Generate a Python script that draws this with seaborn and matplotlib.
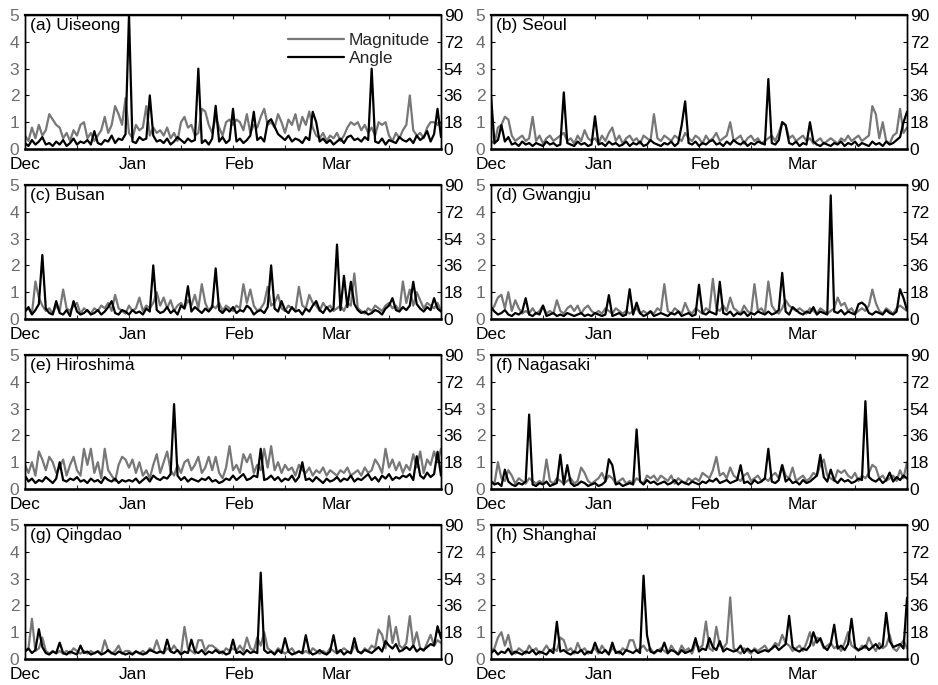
import numpy as np
import pandas as pd
import matplotlib
matplotlib.use("Agg")
import matplotlib.pyplot as plt
import seaborn as sns

# ---------------- data (daily, Dec 1 .. Mar 31) ----------------
month_labels = ["Dec", "Jan", "Feb", "Mar"]
month_starts = [0, 31, 62, 90]
left_ticks = [0, 1, 2, 3, 4, 5]
right_ticks = [0, 18, 36, 54, 72, 90]
panel_titles = ["(a) Uiseong", "(b) Seoul", "(c) Busan", "(d) Gwangju",
                "(e) Hiroshima", "(f) Nagasaki", "(g) Qingdao", "(h) Shanghai"]

uiseong_mag = [0.5,0.3,0.8,0.4,0.9,0.5,0.7,1.3,1.1,0.9,
               0.8,0.4,0.6,0.3,0.7,0.5,0.9,1.0,0.4,0.6,
               0.3,0.5,0.7,1.2,0.6,0.9,1.6,1.3,0.9,1.9,
               0.6,0.4,0.9,0.7,0.8,1.6,0.5,0.8,0.6,0.7,
               0.5,0.8,0.4,0.6,0.3,1.0,1.2,0.8,0.9,0.5,
               0.6,1.5,1.4,0.9,0.6,1.2,0.8,0.5,1.0,1.1,
               0.9,1.1,1.0,0.7,1.3,0.6,0.9,0.8,1.2,1.5,
               0.9,1.0,0.8,1.3,1.0,0.6,1.1,0.9,1.3,0.7,
               1.2,0.9,1.4,0.8,0.5,0.4,0.6,0.3,0.5,0.4,
               0.6,0.3,0.5,0.8,1.0,0.9,1.0,0.7,0.9,0.6,
               0.8,0.5,1.0,0.9,1.0,0.5,0.3,0.6,0.4,0.7,
               0.9,2.0,0.7,0.5,0.6,0.4,0.8,1.0,1.0,0.9,
               1.0]
uiseong_ang = [4,2,6,3,5,8,3,4,2,5,
               3,6,2,4,7,3,5,4,6,3,
               12,4,3,6,5,9,4,7,6,10,
               90,5,4,8,6,7,36,9,5,6,
               4,7,3,5,8,6,4,7,5,6,
               54,4,6,3,7,29,5,8,4,6,
               27,5,7,4,6,9,25,6,8,5,
               18,20,15,10,8,6,9,5,7,6,
               4,8,6,25,18,5,7,4,6,3,
               5,7,4,8,9,6,7,5,8,6,
               54,5,4,7,3,6,5,4,8,6,
               5,7,4,9,6,8,12,5,10,27,
               8]

seoul_mag = [0.3,0.2,0.8,0.9,1.2,1.1,0.5,0.3,0.4,0.5,
             0.3,0.4,1.2,0.3,0.5,0.2,0.4,0.5,0.3,0.4,
             0.5,0.6,0.3,0.4,0.2,0.5,0.3,0.7,0.4,0.3,
             0.4,0.2,0.5,0.3,0.6,0.8,0.3,0.5,0.2,0.4,
             0.5,0.3,0.4,0.2,0.5,0.4,0.3,1.3,0.4,0.3,
             0.5,0.4,0.3,0.5,0.4,0.3,0.6,0.4,0.3,0.5,
             0.4,0.2,0.5,0.3,0.4,0.6,0.3,0.4,0.5,1.0,
             0.3,0.4,0.5,0.2,0.4,0.5,0.3,0.4,0.2,0.3,
             0.4,0.5,0.3,0.6,1.0,0.9,0.4,0.5,0.3,0.4,
             0.5,0.3,0.4,0.2,0.3,0.4,0.2,0.3,0.4,0.3,
             0.2,0.4,0.3,0.5,0.3,0.4,0.5,0.3,0.4,0.5,
             1.6,1.3,0.4,1.0,0.3,0.2,0.5,0.6,1.5,0.6,
             0.8]
seoul_ang = [36,4,6,16,5,8,3,4,2,5,
             3,4,2,4,3,2,5,3,4,2,
             3,38,4,3,2,5,3,4,2,3,
             22,3,4,2,5,3,4,2,3,5,
             2,4,3,5,2,3,6,4,3,2,
             4,3,5,2,4,16,32,4,3,5,
             2,4,3,5,6,3,4,2,5,3,
             6,4,3,5,2,4,3,5,4,3,
             47,4,3,6,18,16,4,3,5,2,
             4,3,18,5,3,2,4,3,2,4,
             3,5,2,4,3,5,2,4,3,2,
             5,3,4,2,5,3,4,6,8,18,
             25]

busan_mag = [0.3,0.4,0.2,1.4,0.8,0.5,0.3,0.4,0.2,0.5,
             0.3,1.1,0.4,0.3,0.5,0.6,0.2,0.4,0.3,0.2,
             0.4,0.3,0.5,0.4,0.6,0.3,0.9,0.4,0.3,0.2,
             0.5,0.3,0.4,0.8,0.3,0.5,0.4,0.6,1.0,0.5,
             0.8,0.4,0.7,0.3,0.5,0.6,0.4,0.7,0.5,0.9,
             0.4,1.3,0.6,0.3,0.5,0.4,0.6,0.3,0.5,0.4,
             0.3,0.5,0.4,1.3,0.6,1.1,0.5,0.3,0.4,0.6,
             1.2,0.5,0.6,0.9,0.4,0.3,0.5,0.4,0.3,1.2,
             0.5,0.4,0.9,0.6,0.5,0.3,0.6,0.4,0.5,0.3,
             0.4,0.5,0.3,0.6,0.5,1.7,0.4,0.3,0.2,0.4,
             0.3,0.5,0.4,0.3,0.5,0.6,0.4,0.5,0.3,1.4,
             0.6,1.1,0.5,1.0,0.7,0.4,0.6,0.5,0.4,0.6,
             0.3]
busan_ang = [5,8,3,6,10,43,7,4,3,12,
             4,3,6,2,12,5,3,4,6,3,
             4,6,3,5,8,12,4,3,6,5,
             3,6,4,5,3,7,5,36,6,4,
             5,8,4,6,3,9,7,22,5,8,
             6,4,7,5,8,34,6,4,7,5,
             8,4,6,5,9,7,3,5,6,4,
             8,36,7,5,12,6,4,8,5,6,
             3,7,5,9,12,6,4,8,5,7,
             50,6,29,8,25,10,6,4,5,3,
             4,6,5,3,7,9,14,6,5,8,
             6,9,25,10,7,5,8,6,14,7,
             5]

gwangju_mag = [0.3,0.5,0.8,0.9,0.4,1.0,0.3,0.7,0.4,0.2,
               0.3,0.2,0.4,0.2,0.3,0.5,0.2,0.3,0.2,0.7,
               0.3,0.2,0.4,0.5,0.3,0.5,0.2,0.4,0.5,0.3,
               0.2,0.3,0.2,0.4,0.3,0.2,0.4,0.3,0.2,0.3,
               0.2,0.3,0.4,0.2,0.3,0.2,0.3,0.2,0.4,0.3,
               1.3,0.3,0.2,0.4,0.3,0.2,0.6,0.3,0.2,0.4,
               0.3,0.2,0.4,0.3,1.5,0.4,0.3,0.5,0.3,0.8,
               0.4,0.3,0.2,0.5,0.3,0.2,1.3,0.3,0.4,0.2,
               1.4,0.5,0.3,0.2,0.4,0.7,0.5,0.4,0.3,0.4,
               0.3,0.2,0.4,0.3,0.2,0.4,0.3,0.2,0.3,0.4,
               0.8,0.5,0.6,0.3,0.4,0.2,0.3,0.4,0.3,0.5,
               1.1,0.6,0.3,0.2,0.4,0.3,0.2,0.4,0.5,0.4,
               0.3]
gwangju_ang = [8,5,3,4,6,3,2,4,3,5,
               14,3,2,4,3,9,2,3,4,2,
               3,2,4,3,2,3,4,2,3,2,
               4,3,2,3,16,2,3,4,2,3,
               20,3,11,4,2,3,5,2,3,4,
               3,2,4,3,5,2,3,4,2,3,
               23,4,3,5,4,3,25,4,3,5,
               2,4,3,5,2,4,3,5,4,3,
               5,3,4,6,31,5,3,8,6,4,
               3,5,4,8,3,5,4,3,83,5,
               4,6,3,5,4,3,10,11,9,4,
               3,5,4,3,6,4,3,5,20,14,
               6]

hiroshima_mag = [0.9,0.6,1.0,0.5,1.4,1.1,0.7,1.2,1.0,0.6,
                 0.8,1.1,0.5,0.9,1.2,0.7,0.5,1.5,0.9,1.5,
                 0.6,1.0,0.4,1.5,0.7,0.5,0.3,0.9,1.2,1.1,
                 0.8,1.1,0.6,1.0,0.5,0.7,0.4,0.9,1.3,0.6,
                 1.0,1.4,0.7,0.5,0.9,0.6,1.0,1.1,0.7,0.9,
                 1.2,0.6,0.8,1.2,0.7,1.2,0.6,0.4,0.8,1.6,
                 0.7,0.9,0.6,1.3,1.0,1.3,0.6,0.9,0.7,1.5,
                 0.8,1.6,0.7,1.0,0.6,0.9,0.7,0.8,0.5,0.9,
                 0.7,0.6,0.8,0.5,0.7,0.6,0.8,0.5,0.7,0.6,
                 0.5,0.7,0.6,0.8,0.5,0.6,0.7,0.5,0.8,0.6,
                 0.7,1.1,0.9,0.6,1.5,0.8,1.1,0.7,1.0,0.6,
                 0.9,0.7,1.3,0.8,1.4,0.6,1.1,0.9,1.4,1.0,
                 1.5]
hiroshima_ang = [9,5,7,4,6,5,8,6,4,7,
                 18,6,5,7,6,8,5,6,4,7,
                 5,6,4,8,6,5,7,4,6,5,
                 6,5,7,4,6,8,5,9,7,6,
                 8,7,10,57,9,6,8,5,7,6,
                 5,7,6,8,5,6,4,5,7,6,
                 9,6,8,10,6,7,9,8,27,6,
                 7,9,6,8,5,7,6,9,5,8,
                 18,6,7,5,8,6,4,7,5,6,
                 8,5,7,6,9,5,7,6,8,10,
                 6,8,5,9,7,10,6,8,7,9,
                 8,10,6,22,9,7,11,8,10,25,
                 9]

nagasaki_mag = [0.3,0.2,1.0,0.4,0.3,0.7,0.5,0.2,0.4,0.3,
                0.2,0.4,0.3,0.2,0.3,0.2,1.1,0.3,0.2,0.4,
                0.3,0.2,0.3,0.4,0.2,0.3,0.8,0.6,0.3,0.2,
                0.3,0.4,0.6,0.3,0.5,0.4,0.2,0.3,0.4,0.2,
                0.3,0.2,0.4,0.3,0.2,0.5,0.4,0.5,0.3,0.5,
                0.4,0.3,0.5,0.2,0.4,0.3,0.2,0.4,0.3,0.4,
                0.3,0.6,0.5,0.4,0.7,1.2,0.5,0.6,0.4,0.8,
                0.5,0.4,0.3,0.5,0.6,0.3,0.4,0.5,0.3,0.4,
                0.3,0.5,0.6,0.4,0.9,0.5,0.4,0.8,0.3,0.4,
                0.5,0.3,0.4,0.6,0.5,0.9,1.1,0.5,0.4,0.3,
                0.7,0.6,0.7,0.5,0.4,0.6,0.3,0.5,0.4,0.6,
                0.9,0.8,0.4,0.5,0.3,0.4,0.5,0.3,0.7,0.4,
                1.0]
nagasaki_ang = [5,3,4,2,13,5,3,2,4,3,
                5,50,3,2,4,3,5,2,3,4,
                23,3,16,4,2,3,5,4,2,3,
                4,2,3,5,20,16,3,4,2,3,
                4,3,40,5,3,6,4,5,3,4,
                5,3,4,6,3,5,4,3,5,4,
                3,5,4,6,5,7,4,5,6,4,
                5,6,16,4,5,3,6,4,5,7,
                27,5,4,6,16,5,7,4,5,3,
                6,4,5,7,9,23,8,5,13,6,
                4,7,5,6,4,5,7,6,59,8,
                6,5,7,4,6,11,5,8,6,9,
                7]

qingdao_mag = [0.3,0.4,1.5,0.3,0.4,0.8,0.3,0.2,0.3,0.2,
               0.3,0.2,0.3,0.2,0.4,0.3,0.2,0.3,0.2,0.3,
               0.2,0.3,0.2,0.7,0.3,0.2,0.3,0.5,0.2,0.3,
               0.3,0.2,0.3,0.2,0.3,0.2,0.4,0.3,0.7,0.3,
               0.2,0.4,0.3,0.5,0.3,0.2,1.2,0.4,0.3,0.2,
               0.7,0.7,0.3,0.5,0.5,0.4,0.3,0.2,0.4,0.3,
               0.4,0.3,0.5,0.3,0.8,0.4,0.3,0.8,0.5,1.0,
               0.4,0.3,0.2,0.4,0.3,0.2,0.3,0.4,0.2,0.3,
               0.2,0.3,0.2,0.4,0.3,0.2,0.3,0.2,0.4,0.3,
               0.2,0.3,0.4,0.3,0.2,0.5,0.3,0.2,0.4,0.3,
               0.5,0.4,1.1,0.9,0.4,1.6,0.6,1.2,0.5,0.4,
               0.6,1.6,0.5,1.0,0.4,0.3,0.6,0.9,0.5,0.7,
               0.6]
qingdao_ang = [5,7,4,6,20,8,4,3,5,4,
               11,4,3,5,4,3,9,4,5,3,
               4,5,3,4,6,4,3,5,4,3,
               4,3,5,4,3,4,6,5,4,5,
               4,13,5,4,6,3,5,4,13,5,
               4,6,3,5,4,6,4,5,3,4,
               13,4,5,3,6,4,5,4,58,6,
               4,5,3,6,4,14,5,3,4,5,
               4,16,5,3,4,6,4,3,5,16,
               4,6,3,5,4,14,5,4,6,5,
               4,6,8,5,12,9,7,10,5,6,
               8,6,9,5,7,6,8,10,9,22,
               14]

shanghai_mag = [0.3,0.4,0.8,1.0,0.5,0.9,0.3,0.2,0.4,0.3,
                0.2,0.5,0.3,0.4,0.2,0.3,0.5,0.3,0.4,0.3,
                0.8,0.7,0.3,0.4,0.2,0.6,0.3,0.4,0.2,0.3,
                0.4,0.2,0.5,0.3,0.2,0.4,0.3,0.2,0.4,0.3,
                0.7,0.7,0.3,0.4,0.5,0.3,0.4,0.2,0.3,0.4,
                0.3,0.2,0.5,0.3,0.2,0.5,0.3,0.4,0.2,0.6,
                0.4,0.5,1.4,0.4,0.3,1.2,0.5,0.4,0.6,2.3,
                0.4,0.3,0.2,0.4,0.3,0.2,0.4,0.3,0.4,0.5,
                0.3,0.4,0.6,0.5,0.9,0.6,0.5,0.3,0.4,0.5,
                0.3,0.6,1.0,0.5,0.8,0.7,0.4,0.5,0.6,0.4,
                0.5,0.3,0.6,1.0,0.5,0.4,0.3,0.5,0.4,0.8,
                0.5,0.3,0.6,0.4,0.5,0.9,0.4,0.3,0.5,0.7,
                0.4]
shanghai_ang = [4,6,3,5,4,7,3,5,4,3,
                5,4,6,3,5,4,3,6,4,25,
                5,6,4,3,5,4,6,3,5,4,
                11,5,4,6,3,11,4,5,3,6,
                5,4,6,4,56,16,5,4,6,5,
                11,4,6,5,3,6,4,5,6,14,
                5,7,6,14,8,6,12,5,7,6,
                5,6,9,4,7,5,6,4,5,6,
                5,7,9,6,8,10,29,8,6,5,
                7,6,9,18,11,14,8,6,10,23,
                7,9,6,10,27,8,6,7,9,6,
                8,10,7,9,31,12,8,9,10,7,
                41]

magnitudes = [uiseong_mag, seoul_mag, busan_mag, gwangju_mag,
              hiroshima_mag, nagasaki_mag, qingdao_mag, shanghai_mag]
angles = [uiseong_ang, seoul_ang, busan_ang, gwangju_ang,
          hiroshima_ang, nagasaki_ang, qingdao_ang, shanghai_ang]

# ---------------- style ----------------
sns.set_style("white")
plt.rcParams["font.family"] = ["Liberation Sans", "DejaVu Sans"]
plt.rcParams["font.size"] = 12

MAG_COLOR = "#777777"
ANG_COLOR = "#000000"
LEFT_LABEL_COLOR = "#6e6e6e"

fig = plt.figure(figsize=(9.38, 6.85), dpi=100)
fig.patch.set_facecolor("white")

W, H = 938.0, 685.0
col_left = [25, 491]
row_top = [15, 185, 355, 525]
ax_w, ax_h = 416, 134

for i in range(8):
    r, c = divmod(i, 2)
    x0 = col_left[c] / W
    y0 = 1 - (row_top[r] + ax_h) / H
    ax = fig.add_axes([x0, y0, ax_w / W, ax_h / H])
    days = np.arange(len(magnitudes[i]))
    df = pd.DataFrame({"day": days, "mag": magnitudes[i], "ang": angles[i]})

    sns.lineplot(data=df, x="day", y="mag", ax=ax, color=MAG_COLOR,
                 linewidth=1.6, legend=False)
    ax2 = ax.twinx()
    sns.lineplot(data=df, x="day", y="ang", ax=ax2, color=ANG_COLOR,
                 linewidth=1.6, legend=False)

    ax.set_xlim(0, 120)
    ax.set_ylim(0, 5)
    ax2.set_ylim(0, 90)
    ax.set_yticks(left_ticks)
    ax2.set_yticks(right_ticks)
    ax.set_xticks(month_starts)
    ax.set_xticklabels(month_labels)
    ax.set_xticks(np.arange(0, 121, 15), minor=True)
    ax.set_xlabel("")
    ax.set_ylabel("")
    ax2.set_ylabel("")

    ax.tick_params(axis="x", which="major", length=0, pad=6, labelsize=12.5,
                   colors="black")
    ax.tick_params(axis="x", which="minor", direction="in", length=3,
                   top=True, bottom=True, width=0.8)
    ax.tick_params(axis="y", direction="in", length=3, pad=4, labelsize=12.5,
                   labelcolor=LEFT_LABEL_COLOR, color="black")
    ax2.tick_params(axis="y", direction="in", length=3, pad=2, labelsize=12.5,
                    labelcolor="black", color="black")

    for a in (ax, ax2):
        for s in a.spines.values():
            s.set_color("black")
            s.set_linewidth(1.0)
    ax.spines["top"].set_linewidth(1.6)
    ax.spines["bottom"].set_linewidth(1.8)

    ax.text(0.012, 0.975, panel_titles[i], transform=ax.transAxes,
            ha="left", va="top", fontsize=12.5, color="black", zorder=10)

    if i == 0:
        h1 = ax.get_lines()[0]
        h2 = ax2.get_lines()[0]
        ax2.legend([h1, h2], ["Magnitude", "Angle"], loc="upper right",
                   bbox_to_anchor=(0.995, 0.93), frameon=False, fontsize=12.5,
                   handlelength=3.2, handletextpad=0.3, labelspacing=0.15,
                   borderaxespad=0.1)

fig.savefig("out.png", dpi=100, facecolor="white")
